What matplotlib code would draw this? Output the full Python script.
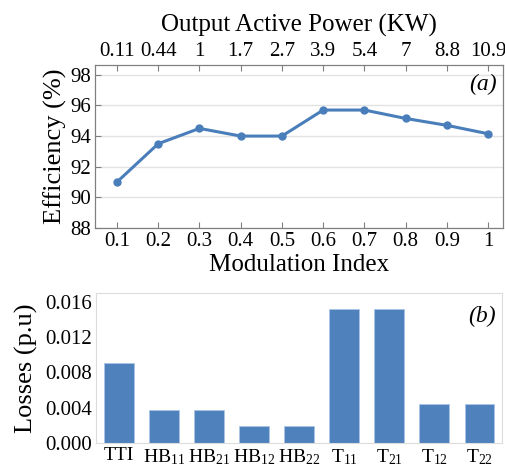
import matplotlib.pyplot as plt

plt.rcParams['font.family'] = ['Liberation Serif', 'DejaVu Serif']
plt.rcParams['mathtext.default'] = 'regular'

# (a) efficiency vs modulation index
mod_index = [0.1, 0.2, 0.3, 0.4, 0.5, 0.6, 0.7, 0.8, 0.9, 1.0]
mod_labels = ['0.1', '0.2', '0.3', '0.4', '0.5', '0.6', '0.7', '0.8', '0.9', '1']
power_labels = ['0.11', '0.44', '1', '1.7', '2.7', '3.9', '5.4', '7', '8.8', '10.9']
efficiency = [91.0, 93.5, 94.5, 94.0, 94.0, 95.7, 95.7, 95.15, 94.7, 94.15]

# (b) losses per device
devices = ['TTI', 'HB$_{11}$', 'HB$_{21}$', 'HB$_{12}$', 'HB$_{22}$',
           'T$_{11}$', 'T$_{21}$', 'T$_{12}$', 'T$_{22}$']
losses = [0.0091, 0.0038, 0.0038, 0.0020, 0.0020, 0.0152, 0.0152, 0.0044, 0.0044]

blue_line = '#4a7ebb'
blue_bar = '#4f81bd'
tick_fs = 15

fig = plt.figure(figsize=(5.06, 4.70), dpi=100)

# ---- top plot
ax1 = fig.add_axes([0.188, 0.515, 0.806, 0.347])
ax1.plot(mod_index, efficiency, color=blue_line, lw=2.2, marker='o', ms=5)
ax1.set_xlim(0.047, 1.036)
ax1.set_ylim(88, 98.65)
ax1.set_yticks([88, 90, 92, 94, 96, 98])
ax1.set_xticks(mod_index)
ax1.set_xticklabels(mod_labels)
ax1.grid(axis='y', color='#e2e2e2', lw=1)
ax1.set_axisbelow(True)
for s in ax1.spines.values():
    s.set_color('#7f7f7f')
ax1.tick_params(direction='in', length=4, color='#7f7f7f', labelsize=tick_fs, pad=3)
ax1.set_xlabel('Modulation Index', fontsize=18, labelpad=2)
ax1.set_ylabel('Efficiency (%)', fontsize=19, labelpad=2)
ax1.text(0.985, 0.88, '(a)', transform=ax1.transAxes, ha='right', va='center',
         fontsize=17, style='italic')

top = ax1.twiny()
top.set_xlim(ax1.get_xlim())
top.set_xticks(mod_index)
top.set_xticklabels(power_labels)
top.tick_params(direction='in', length=4, color='#7f7f7f', labelsize=tick_fs, pad=3)
for s in top.spines.values():
    s.set_color('#7f7f7f')
top.set_xlabel('Output Active Power (KW)', fontsize=18, labelpad=7)

# ---- bottom plot
ax2 = fig.add_axes([0.19, 0.057, 0.802, 0.32])
ax2.bar(range(len(devices)), losses, width=0.66, color=blue_bar,
        edgecolor='#a9c4e6', lw=0.6)
ax2.set_xlim(-0.5, len(devices) - 0.5)
ax2.set_ylim(0, 0.017)
ax2.set_yticks([0.0, 0.004, 0.008, 0.012, 0.016])
ax2.set_yticklabels(['0.000', '0.004', '0.008', '0.012', '0.016'])
ax2.set_xticks(range(len(devices)))
ax2.set_xticklabels(devices)
for s in ax2.spines.values():
    s.set_color('#dcdcdc')
ax2.tick_params(length=0, labelsize=tick_fs, pad=3)
ax2.tick_params(axis='x', labelsize=14)
ax2.set_ylabel('Losses (p.u)', fontsize=19, labelpad=5)
ax2.text(0.985, 0.84, '(b)', transform=ax2.transAxes, ha='right', va='center',
         fontsize=17, style='italic')

plt.savefig('out.png', dpi=100)
